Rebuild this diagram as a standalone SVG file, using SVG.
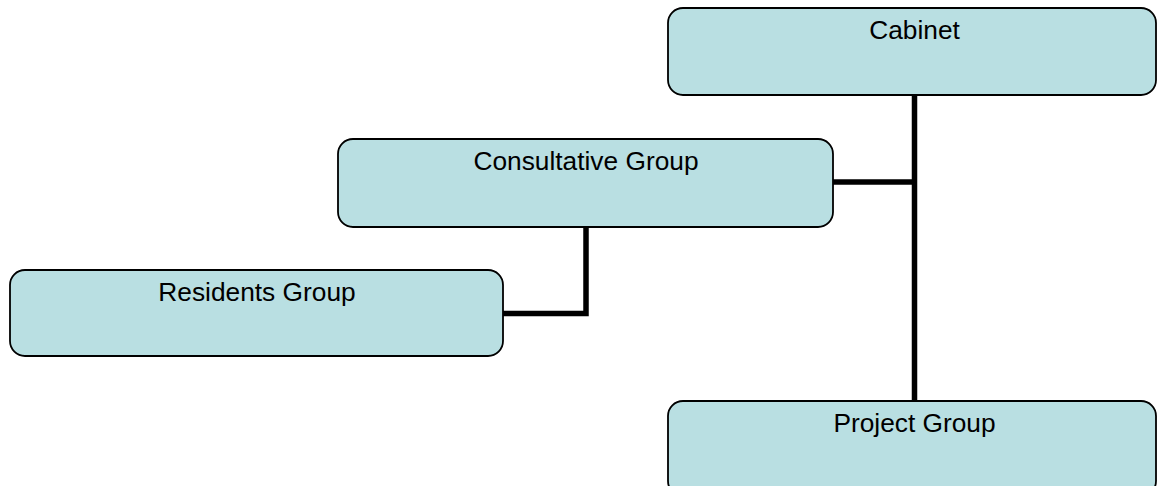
<svg xmlns="http://www.w3.org/2000/svg" width="1157" height="486" viewBox="0 0 1157 486">
<style>
.box{fill:#b9dfe2;stroke:#000;stroke-width:1.8}
.lbl{font-family:"Liberation Sans",Arial,sans-serif;font-size:26.3px;fill:#000;text-anchor:middle}
.con{fill:none;stroke:#000;stroke-width:5.5}
</style>
<rect width="1157" height="486" fill="#fff"/>
<g id="connectors">
<line class="con" x1="914.5" y1="95" x2="914.5" y2="401"/>
<line class="con" x1="833" y1="182" x2="914.5" y2="182"/>
<polyline class="con" points="586,227 586,313.5 503,313.5"/>
</g>
<g id="cabinet">
<rect class="box" x="668" y="8" width="488" height="87" rx="15"/>
<text class="lbl" x="914.5" y="39">Cabinet</text>
</g>
<g id="consultative">
<rect class="box" x="338" y="139" width="495" height="88" rx="15"/>
<text class="lbl" x="586" y="170">Consultative Group</text>
</g>
<g id="residents">
<rect class="box" x="10" y="270" width="493" height="86" rx="15"/>
<text class="lbl" x="257" y="301">Residents Group</text>
</g>
<g id="project">
<rect class="box" x="668" y="401" width="488" height="95" rx="15"/>
<text class="lbl" x="914.5" y="432">Project Group</text>
</g>
</svg>
